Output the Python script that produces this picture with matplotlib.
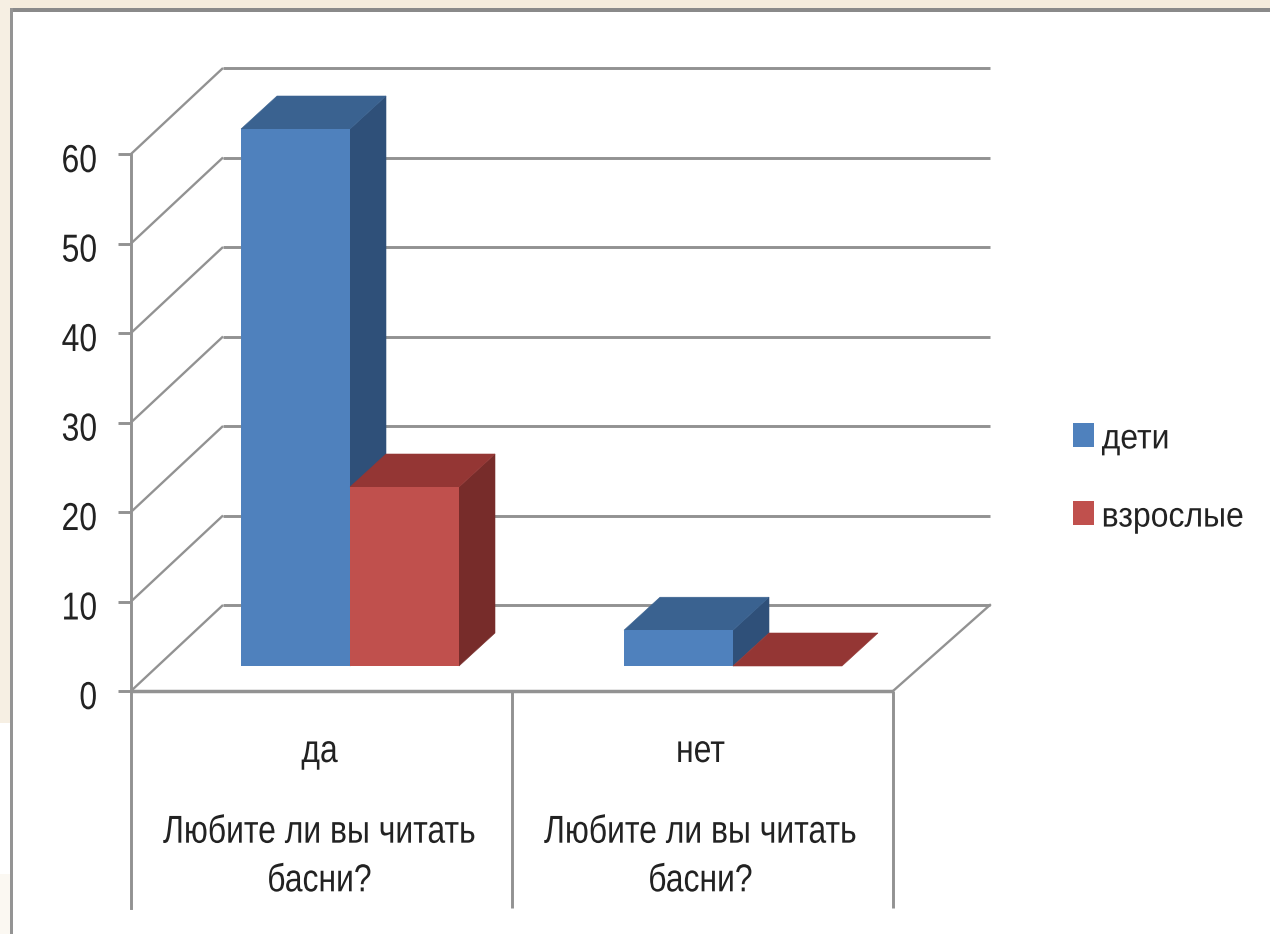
import matplotlib
matplotlib.use("Agg")
import matplotlib.pyplot as plt
from matplotlib.patches import Polygon, Patch, Rectangle
from matplotlib.patheffects import AbstractPathEffect
from matplotlib.transforms import Affine2D

plt.rcParams['font.family'] = ['Liberation Sans', 'DejaVu Sans']

categories = ['да', 'нет']
group_label = 'Любите ли вы читать\nбасни?'
series_names = ['дети', 'взрослые']
children = [60, 4]
adults = [20, 0]
y_ticks = [0, 10, 20, 30, 40, 50, 60]

W, H = 1270, 934
X0, PX_PER_CAT = 131.0, 381.0
Y0, PX_PER_UNIT = 691.0, 8.95
GRID = '#929292'
TXT = '#222222'
FONT = 28
LEG_FONT = 25


class Squeeze(AbstractPathEffect):
    """Draw a text narrower about a fixed pixel column (the reference font is condensed)."""

    def __init__(self, sx, anchor_px, dy=0):
        super().__init__()
        self.sx, self.anchor, self.dy = sx, anchor_px, dy

    def draw_path(self, renderer, gc, tpath, affine, rgbFace=None):
        t = affine + Affine2D().translate(-self.anchor, self.dy).scale(self.sx, 1).translate(self.anchor, 0)
        renderer.draw_path(gc, tpath, t, rgbFace)


def ux(px):
    return px / PX_PER_CAT


def uy(px):
    return px / PX_PER_UNIT


fig = plt.figure(figsize=(W / 100, H / 100), dpi=100, facecolor='white')
ax = fig.add_axes([0, 0, 1, 1])
ax.set_xlim((0 - X0) / PX_PER_CAT, (W - X0) / PX_PER_CAT)
ax.set_ylim((Y0 - H) / PX_PER_UNIT, Y0 / PX_PER_UNIT)
ax.patch.set_alpha(0)

# slide background and frame
fig.patches.extend([
    Rectangle((0, 1 - 9 / H), 1, 9 / H, transform=fig.transFigure, color='#F5ECDD', lw=0),
    Rectangle((0, 1 - 723 / H), 10 / W, 723 / H, transform=fig.transFigure, color='#F6EFE3', lw=0),
    Rectangle((0, 0), 10 / W, 60 / H, transform=fig.transFigure, color='#FBF8F2', lw=0),
    Rectangle((10 / W, 1 - 12 / H), 1 - 10 / W, 4 / H, transform=fig.transFigure, color='#8A8A8A', lw=0),
    Rectangle((10 / W, 0), 3 / W, 1 - 8 / H, transform=fig.transFigure, color='#949494', lw=0),
])

# 3D geometry
wall_dx, wall_dy = ux(92), uy(86)
right_end = ux(990 - X0)
floor_right = 2.0
lw = 2.1
for t in y_ticks:
    ax.plot([0, wall_dx], [t, t + wall_dy], color=GRID, lw=lw * 0.8, zorder=1, solid_capstyle='butt')
    ax.plot([wall_dx, right_end], [t + wall_dy, t + wall_dy], color=GRID, lw=lw, zorder=1, solid_capstyle='butt')
ax.plot([floor_right, right_end], [0, wall_dy], color=GRID, lw=lw * 0.8, zorder=1)
ax.plot([0, floor_right], [0, 0], color=GRID, lw=lw + 0.4, zorder=1, solid_capstyle='butt')
label_bottom = uy(Y0 - 908)
ax.vlines([1, 2], label_bottom, 0, color=GRID, lw=lw, zorder=1)

# bars
bar_w = ux(109)
base = uy(Y0 - 666)
start = ux(241 - X0)
depth_dx, depth_dy = ux(36), uy(33)
faces = [('#4F81BD', '#3A6290', '#2F5079'), ('#C0504D', '#943634', '#772C2A')]


def draw_series(xs, vals, cols, z):
    front, top, side = cols
    for x, v in zip(xs, vals):
        y1 = base + v
        if v > 0:
            ax.bar(x, v, width=bar_w, bottom=base, align='edge', color=front, lw=0, zorder=z)
            ax.add_patch(Polygon([(x + bar_w, base), (x + bar_w + depth_dx, base + depth_dy),
                                  (x + bar_w + depth_dx, y1 + depth_dy), (x + bar_w, y1)],
                                 closed=True, facecolor=side, edgecolor=side, lw=0.4, zorder=z - 0.1))
        ax.add_patch(Polygon([(x, y1), (x + bar_w, y1), (x + bar_w + depth_dx, y1 + depth_dy),
                              (x + depth_dx, y1 + depth_dy)], closed=True,
                             facecolor=top, edgecolor=top, lw=0.4, zorder=z - 0.1))


cat_pos = [0, 1]
bar_pos = [c + start + ux(2) * c for c in cat_pos]
draw_series(bar_pos, children, faces[0], 3)
draw_series([b + bar_w for b in bar_pos], adults, faces[1], 4)

# axes
for s in ['top', 'right', 'bottom']:
    ax.spines[s].set_visible(False)
ax.spines['left'].set_position(('data', 0))
ax.spines['left'].set_bounds(label_bottom, 60)
ax.spines['left'].set_color(GRID)
ax.spines['left'].set_linewidth(lw)
ax.set_yticks(y_ticks)
ax.set_yticklabels([str(t) for t in y_ticks], fontsize=FONT, color=TXT)
ax.tick_params(axis='y', length=9.4, width=lw, color=GRID, pad=15)
ax.set_xticks([])
for lab in ax.get_yticklabels():
    lab.set_path_effects([Squeeze(0.82, 97, dy=-4)])

for c, name in zip(cat_pos, categories):
    cx = c + 0.5 - ux(2)
    cx_px = X0 + cx * PX_PER_CAT
    ax.text(cx, uy(Y0 - 752), name, ha='center', va='center', fontsize=FONT, color=TXT,
            zorder=5, path_effects=[Squeeze(0.82, cx_px)])
    ax.text(cx, uy(Y0 - 857), group_label, ha='center', va='center', fontsize=FONT, color=TXT,
            linespacing=1.45, zorder=5, path_effects=[Squeeze(0.82, cx_px)])

handles = [Patch(facecolor='#4F81BD', lw=0), Patch(facecolor='#C0504D', lw=0)]
leg = ax.legend(handles, series_names, loc='center left',
                bbox_to_anchor=(1073 / W, 1 - 477 / H), bbox_transform=fig.transFigure,
                frameon=False, fontsize=LEG_FONT, borderpad=0, borderaxespad=0,
                handlelength=0.605, handleheight=0.69, handletextpad=0.22, labelspacing=1.3)
for t in leg.get_texts():
    t.set_color(TXT)
    t.set_path_effects([Squeeze(0.92, 1102, dy=-1)])

fig.savefig('out.png', dpi=100, facecolor=fig.get_facecolor())
